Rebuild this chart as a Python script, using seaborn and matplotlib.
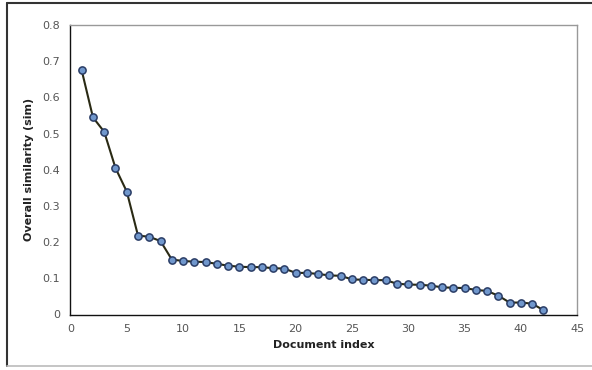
import matplotlib
matplotlib.use("Agg")
import matplotlib.pyplot as plt
import seaborn as sns
import pandas as pd
from matplotlib.lines import Line2D

doc_index = list(range(1, 43))
similarity = [0.675, 0.545, 0.505, 0.405, 0.340, 0.218, 0.215, 0.203, 0.152, 0.148,
              0.146, 0.145, 0.140, 0.135, 0.132, 0.131, 0.131, 0.128, 0.127, 0.115,
              0.115, 0.112, 0.108, 0.107, 0.097, 0.096, 0.095, 0.095, 0.085, 0.083,
              0.082, 0.080, 0.075, 0.074, 0.073, 0.068, 0.065, 0.052, 0.033, 0.033,
              0.030, 0.012]
x_ticks = [0, 5, 10, 15, 20, 25, 30, 35, 40, 45]
y_ticks = [0, 0.1, 0.2, 0.3, 0.4, 0.5, 0.6, 0.7, 0.8]
y_labels = ["0", "0.1", "0.2", "0.3", "0.4", "0.5", "0.6", "0.7", "0.8"]

df = pd.DataFrame({"Document index": doc_index, "sim": similarity})

sns.set_style("white")
plt.rcParams["font.family"] = ["DejaVu Sans"]

fig = plt.figure(figsize=(5.92, 3.70), dpi=100)
ax = fig.add_axes([0.119, 0.150, 0.856, 0.782])

sns.lineplot(data=df, x="Document index", y="sim", ax=ax, color="#2a2a14",
             linewidth=1.5, marker="o", markersize=5.2,
             markerfacecolor="#7097cc", markeredgecolor="#2a3d66",
             markeredgewidth=1.1)

ax.set_xlim(0, 45)
ax.set_ylim(0, 0.8)
ax.set_xticks(x_ticks)
ax.set_xticklabels([str(t) for t in x_ticks])
ax.set_yticks(y_ticks)
ax.set_yticklabels(y_labels)
ax.tick_params(axis="both", labelsize=8, colors="#222222", width=0.8)
ax.tick_params(axis="x", direction="inout", length=6, pad=4)
ax.tick_params(axis="y", direction="out", length=4)
for lab in ax.get_xticklabels() + ax.get_yticklabels():
    lab.set_color("#555555")
ax.set_xlabel("Document index", fontsize=8, fontweight="bold", color="#222222", labelpad=4)
ax.set_ylabel("Overall similarity (sim)", fontsize=8, fontweight="bold", color="#222222", labelpad=6)

for s in ["left", "bottom"]:
    ax.spines[s].set_color("#111111")
    ax.spines[s].set_linewidth(1.0)
for s in ["top", "right"]:
    ax.spines[s].set_color("#999999")
    ax.spines[s].set_linewidth(1.0)

# outer frame: dark left/top, light bottom, right edge cropped
fig.add_artist(Line2D([0.012, 0.012], [0.011, 0.992], transform=fig.transFigure,
                      color="#333333", linewidth=1.5))
fig.add_artist(Line2D([0.012, 1.0], [0.992, 0.992], transform=fig.transFigure,
                      color="#333333", linewidth=1.5))
fig.add_artist(Line2D([0.012, 1.0], [0.011, 0.011], transform=fig.transFigure,
                      color="#bbbbbb", linewidth=1.2))

fig.savefig("out.png", dpi=100)
